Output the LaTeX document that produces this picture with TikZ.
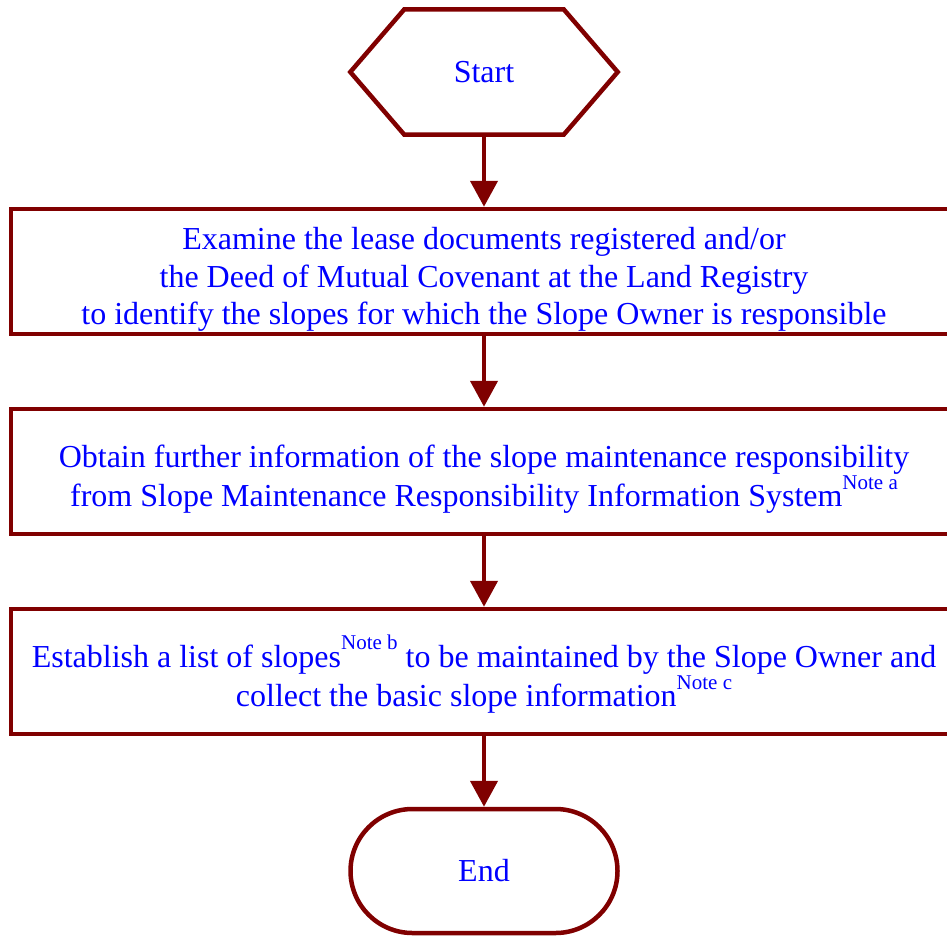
\documentclass[tikz,border=0pt]{standalone}
\usepackage{fontspec}
\setmainfont{Liberation Serif}
\usetikzlibrary{arrows.meta}
\definecolor{frame}{RGB}{128,0,0}
\definecolor{txt}{RGB}{0,0,255}
\newcommand{\notesup}[1]{\raisebox{0.55em}{\fontsize{21}{21}\selectfont #1}}
\newcommand{\topstrut}{\rule{0pt}{38pt}}
\begin{document}
\begin{tikzpicture}[x=1pt,y=-1pt,
  lbl/.style={inner sep=0pt, align=center, text=txt, font=\fontsize{32}{37.5}\selectfont},
  box/.style={lbl, draw=frame, line width=4.5pt, minimum width=946pt, minimum height=125pt},
  term/.style={lbl, minimum width=267pt, minimum height=125pt},
  outline/.style={draw=frame, line width=4.5pt, line join=miter},
  arr/.style={draw=frame, line width=4.5pt, -{Triangle[width=27pt,length=26pt]}}
]
\useasboundingbox (0,0) rectangle (947,935);
\node[term] (start) at (484,72) {Start};
\draw[outline] (start.west) -- ([xshift=54pt]start.north west) -- ([xshift=-54pt]start.north east)
  -- (start.east) -- ([xshift=-54pt]start.south east) -- ([xshift=54pt]start.south west) -- cycle;
\node[box] (b1) at (484,271.5) {\topstrut Examine the lease documents registered and/or\\the Deed of Mutual Covenant at the Land Registry\\to identify the slopes for which the Slope Owner is responsible};
\node[box] (b2) at (484,471.5) {\topstrut Obtain further information of the slope maintenance responsibility\\from Slope Maintenance Responsibility Information System\notesup{Note a}};
\node[box] (b3) at (484,671.5) {\topstrut Establish a list of slopes\notesup{Note b} to be maintained by the Slope Owner and\\collect the basic slope information\notesup{Note c}};
\node[term, draw=frame, line width=4.5pt, rounded corners=62pt, minimum height=124pt] (end) at (484,871) {End};
\draw[arr] (start.south) -- (b1.north);
\draw[arr] (b1.south) -- (b2.north);
\draw[arr] (b2.south) -- (b3.north);
\draw[arr] (b3.south) -- (end.north);
\end{tikzpicture}
\end{document}
